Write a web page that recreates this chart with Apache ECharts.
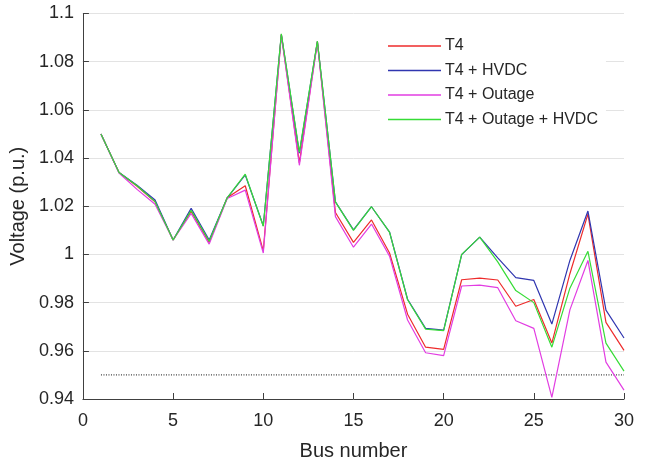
<!DOCTYPE html>
<html>
<head>
<meta charset="utf-8">
<script src="https://cdn.jsdelivr.net/npm/echarts@6/dist/echarts.min.js"></script>
<style>
  html, body { margin: 0; padding: 0; background: #ffffff; }
  #chart { width: 648px; height: 466px; }
</style>
</head>
<body>
<div id="chart"></div>
<script>
// Bus voltage profile, IEEE 30-bus system
const buses = [1, 2, 3, 4, 5, 6, 7, 8, 9, 10, 11, 12, 13, 14, 15,
               16, 17, 18, 19, 20, 21, 22, 23, 24, 25, 26, 27, 28, 29, 30];

const t4 = [1.050, 1.034, 1.0283, 1.0219, 1.006, 1.0178, 1.005, 1.0235, 1.0285, 1.0015,
            1.0913, 1.038, 1.0883, 1.0174, 1.005, 1.0143, 1.0006, 0.9752, 0.9615, 0.9606,
            0.9895, 0.9902, 0.9894, 0.9785, 0.9813, 0.9632, 0.992, 1.0167, 0.9718, 0.9602];

const t4Hvdc = [1.050, 1.034, 1.0287, 1.0226, 1.006, 1.0191, 1.006, 1.0235, 1.0330, 1.0119,
                1.0913, 1.0420, 1.0883, 1.0218, 1.0102, 1.0198, 1.0093, 0.9814, 0.9693, 0.9686,
                0.9999, 1.0072, 0.9986, 0.9904, 0.9892, 0.9711, 0.9975, 1.0180, 0.9769, 0.9653];

const t4Outage = [1.050, 1.0338, 1.0270, 1.0208, 1.006, 1.0170, 1.0043, 1.0232, 1.0267, 1.0006,
                  1.0910, 1.0370, 1.0880, 1.0157, 1.0030, 1.0126, 0.9993, 0.9728, 0.9592, 0.9580,
                  0.9869, 0.9873, 0.9862, 0.9725, 0.9693, 0.9407, 0.9770, 0.9975, 0.9553, 0.9437];

const t4OutageHvdc = [1.050, 1.034, 1.0285, 1.0219, 1.006, 1.0183, 1.0055, 1.0235, 1.0333, 1.0117,
                      1.0916, 1.0425, 1.0885, 1.0218, 1.0100, 1.0198, 1.0093, 0.9812, 0.9690, 0.9684,
                      1.0000, 1.0072, 0.9969, 0.9850, 0.9800, 0.9615, 0.9860, 1.0013, 0.9632, 0.9516];

const seriesNames = ['T4', 'T4 + HVDC', 'T4 + Outage', 'T4 + Outage + HVDC'];

// Lower voltage limit drawn across the bus range
const limitBuses = [1, 30];
const limitLevel = 0.95;

const FONT = "'Liberation Sans', Arial, sans-serif";
const TEXT = '#262626';

const pair = vals => buses.map((b, i) => [b, vals[i]]);

const colors = ['#ee2b2b', '#3036b0', '#e23de2', '#36dc36'];
const seriesData = [t4, t4Hvdc, t4Outage, t4OutageHvdc];

const series = seriesData.map((vals, i) => ({
  name: seriesNames[i],
  type: 'line',
  data: pair(vals),
  symbol: 'none',
  lineStyle: { color: colors[i], width: 1.2 },
  itemStyle: { color: colors[i] },
  z: 3 + i,
  animation: false
}));

series.push({
  name: 'limit',
  type: 'line',
  data: limitBuses.map(b => [b, limitLevel]),
  symbol: 'none',
  lineStyle: { color: '#111111', width: 1, type: [1, 1.5] },
  z: 2,
  silent: true,
  animation: false
});

const chart = echarts.init(document.getElementById('chart'), null, { renderer: 'canvas' });

chart.setOption({
  backgroundColor: '#ffffff',
  animation: false,
  textStyle: { fontFamily: FONT },
  grid: { left: 82, right: 24, top: 13.5, bottom: 63, containLabel: false },
  legend: {
    data: seriesNames.map(n => ({ name: n, icon: 'rect' })),
    orient: 'vertical',
    left: 380,
    top: 30,
    padding: [8, 8, 8, 8],
    backgroundColor: '#ffffff',
    itemWidth: 53,
    itemHeight: 1.5,
    itemGap: 8.5,
    textStyle: { fontFamily: FONT, fontSize: 16, color: TEXT, lineHeight: 14, padding: [0, 0, 0, -1] },
    z: 10
  },
  xAxis: {
    type: 'value',
    min: 0,
    max: 30,
    interval: 5,
    name: 'Bus number',
    nameLocation: 'middle',
    nameGap: 42,
    nameTextStyle: { fontFamily: FONT, fontSize: 20, color: TEXT },
    axisLine: { lineStyle: { color: '#404040', width: 1 } },
    axisTick: { inside: true, length: 6, lineStyle: { color: '#404040' } },
    axisLabel: { fontFamily: FONT, fontSize: 18, color: TEXT, margin: 13 },
    splitLine: { show: false }
  },
  yAxis: {
    type: 'value',
    min: 0.94,
    max: 1.1,
    interval: 0.02,
    name: 'Voltage (p.u.)',
    nameLocation: 'middle',
    nameGap: 42,
    nameTextStyle: { fontFamily: FONT, fontSize: 20, color: TEXT },
    axisLine: { show: true, lineStyle: { color: '#404040', width: 1 } },
    axisTick: { show: true, inside: true, length: 6, lineStyle: { color: '#404040' } },
    axisLabel: {
      fontFamily: FONT, fontSize: 18, color: TEXT, margin: 9,
      formatter: v => String(+v.toFixed(2))
    },
    splitLine: { show: true, lineStyle: { color: '#e3e3e3', width: 1 } }
  },
  series: series
});
</script>
</body>
</html>
